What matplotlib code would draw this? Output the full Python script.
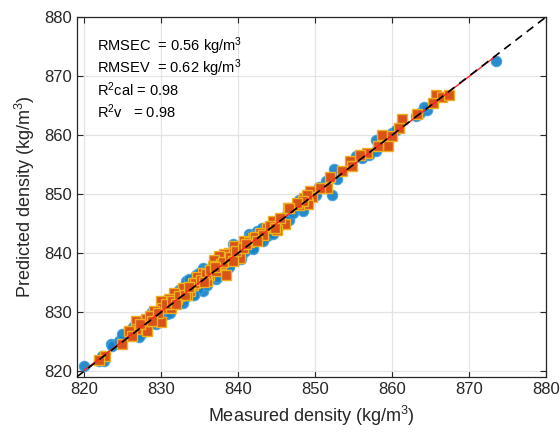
import numpy as np
import matplotlib
matplotlib.use("Agg")
import matplotlib.pyplot as plt

plt.rcParams['font.family'] = ['Liberation Sans', 'DejaVu Sans']
plt.rcParams['mathtext.default'] = 'regular'

# Calibration set (blue circles): measured, predicted
cal_meas = [820.0, 821.9, 822.6, 822.4, 823.5, 823.7, 824.5, 825.0, 827.4, 828.0,
            829.3, 830.8, 831.9, 833.6, 834.5, 833.2, 834.1, 834.5, 835.4, 837.1,
            837.5, 833.6, 834.9, 835.4, 837.5, 838.8, 839.7, 840.6, 839.3, 841.6,
            841.0, 843.8, 841.4, 842.5, 843.1, 845.7, 846.2, 848.4, 846.6, 847.1,
            848.4, 847.9, 850.1, 850.5, 851.4, 852.2, 852.9, 852.5, 855.3,
            856.1, 857.0, 857.9, 858.5, 857.9, 860.0, 860.5, 863.1, 863.7, 864.6,
            864.2, 873.5,
            826.0, 826.8, 827.9, 828.6, 829.0, 829.8, 830.4, 831.0, 831.5, 832.2,
            832.7, 833.0, 833.9, 834.8, 835.8, 836.3, 836.8, 837.9, 838.3, 839.0,
            839.8, 840.2, 841.2, 841.9, 842.2, 842.8, 843.5, 844.3, 844.9, 845.3,
            828.4, 830.0, 831.8, 833.4, 835.1, 836.5, 838.6, 840.9, 842.6, 844.0,
            827.1, 829.6, 831.2, 832.9, 834.3, 836.0, 837.3, 838.9, 840.4, 842.0,
            843.3, 844.6, 826.4, 828.9, 830.6, 832.4, 835.6, 837.7, 839.5, 841.5]
cal_pred = [820.9, 821.8, 821.8, 822.6, 824.6, 824.3, 825.2, 826.3, 826.3, 827.7,
            828.0, 829.7, 831.4, 835.3, 836.4, 835.3, 833.0, 834.2, 833.6, 835.6,
            836.1, 835.6, 836.7, 837.5, 838.4, 838.9, 838.9, 840.1, 841.5, 841.5,
            842.0, 842.9, 843.2, 843.7, 844.3, 845.7, 846.3, 847.1, 845.7, 846.8,
            848.4, 849.1, 849.9, 851.3, 852.2, 849.9, 852.5, 854.2, 856.4,
            856.1, 856.7, 857.3, 858.7, 859.2, 860.4, 860.9, 863.2, 863.7, 864.3,
            864.8, 872.6,
            826.9, 826.2, 828.6, 828.0, 829.6, 829.1, 830.9, 830.4, 832.1, 831.6,
            833.2, 832.4, 834.5, 834.0, 836.3, 835.7, 837.4, 837.2, 839.0, 838.4,
            840.6, 839.6, 841.9, 841.1, 843.0, 842.3, 844.2, 843.6, 845.3, 844.7,
            829.2, 829.5, 832.5, 832.8, 835.9, 836.0, 839.3, 840.3, 843.3, 843.4,
            825.9, 828.4, 829.9, 831.6, 833.0, 834.6, 836.0, 837.6, 839.1, 840.7,
            842.0, 843.3, 827.5, 830.1, 831.8, 833.7, 837.0, 839.0, 840.8, 842.9]

# Validation set (orange squares): measured, predicted
val_meas = [865.7, 866.5, 867.4, 865.3, 863.2, 861.3, 860.9, 858.7, 860.0, 859.5,
            858.2, 856.8, 855.8, 854.5, 854.8, 853.5, 851.9, 851.6, 850.6, 849.4,
            849.6, 848.6, 849.1, 847.9, 846.5, 846.1,
            849.0, 848.4, 847.7, 846.6, 844.5, 845.1, 843.8, 842.9, 841.9, 840.8,
            840.3, 839.5, 838.8, 840.3, 838.2, 837.5, 836.9, 837.8, 836.7, 838.4,
            836.2, 835.4, 834.9, 836.0, 834.1, 833.0, 833.8, 832.6,
            834.7, 834.1, 832.8, 833.4, 831.7, 832.1, 831.0, 830.0, 830.2, 831.3,
            829.1, 829.1, 830.0, 828.0, 826.7, 827.8, 828.2, 826.7, 825.8, 826.3,
            825.0, 822.8, 821.9,
            827.3, 828.6, 829.6, 830.7, 831.5, 832.3, 833.1, 834.4, 835.2, 835.8,
            836.4, 837.2, 838.0, 839.0, 839.8, 840.6, 841.4, 842.2, 843.2, 844.1,
            845.4, 828.9, 831.9, 833.6, 835.6, 837.0, 839.3, 841.1, 842.5, 844.8]
val_pred = [866.8, 866.5, 866.8, 865.5, 863.6, 862.7, 861.2, 860.1, 859.9, 858.1,
            858.1, 856.9, 856.7, 855.6, 854.8, 854.0, 852.9, 851.1, 851.1, 850.5,
            849.5, 849.4, 848.4, 848.2, 847.7, 845.0,
            849.9, 848.8, 848.5, 847.7, 845.4, 844.0, 844.3, 843.5, 842.6, 842.0,
            840.9, 841.2, 840.1, 839.2, 839.8, 839.5, 838.9, 838.1, 837.8, 836.4,
            836.4, 836.7, 835.6, 835.3, 834.7, 834.2, 833.6, 833.3,
            835.9, 835.0, 834.2, 833.0, 833.3, 832.2, 832.2, 831.9, 830.8, 830.8,
            830.2, 829.1, 828.3, 828.8, 828.5, 827.4, 826.8, 827.1, 826.8, 826.0,
            824.6, 822.6, 822.0,
            828.0, 829.4, 829.9, 831.4, 832.0, 832.8, 832.9, 834.9, 835.5, 836.5,
            837.1, 837.0, 838.6, 839.3, 840.4, 840.9, 841.9, 842.7, 843.1, 844.6,
            845.9, 828.6, 831.4, 834.3, 835.1, 837.6, 838.7, 841.6, 842.1, 844.2]

stats_text = ['RMSEC  = 0.56 kg/m$^3$', 'RMSEV  = 0.62 kg/m$^3$',
              'R$^2$cal = 0.98', 'R$^2$v   = 0.98']
ticks = [820, 830, 840, 850, 860, 870, 880]
lims = (819.1, 880)

fig = plt.figure(figsize=(5.6, 4.37), dpi=100)
ax = fig.add_axes([0.1375, 0.138, 0.8375, 0.823])

ax.plot(cal_meas, cal_pred, 'o', ms=7.5, mfc='#1582c8', mec='#45a0da', mew=0.8,
        alpha=0.92, zorder=3)
ax.plot(val_meas, val_pred, 's', ms=7, mfc='#D95319', mec='#EDB120', mew=1.0,
        zorder=4)

coef = np.polyfit(cal_meas, cal_pred, 1)
xf = np.array([min(cal_meas), max(cal_meas)])
ax.plot(xf, np.polyval(coef, xf), '-', color='#ff2020', lw=1.0, zorder=5)
ax.plot(lims, lims, '--', color='black', lw=1.2, dashes=(5, 3.5), zorder=6)

ax.set_xlim(lims)
ax.set_ylim(lims)
ax.set_xticks(ticks)
ax.set_yticks(ticks)
ax.grid(True, color='#e3e3e3', lw=0.9)
ax.set_axisbelow(True)
ax.tick_params(direction='in', top=True, right=True, length=4, labelsize=12,
               colors='#262626', width=0.8)
for s in ax.spines.values():
    s.set_color('#262626')
    s.set_linewidth(0.9)

ax.set_xlabel('Measured density (kg/m$^3$)', fontsize=13, color='#262626', labelpad=5)
ax.set_ylabel('Predicted density (kg/m$^3$)', fontsize=13, color='#262626', labelpad=5)

for i, t in enumerate(stats_text):
    ax.text(0.042, 0.92 - i * 0.0615, t, transform=ax.transAxes, fontsize=10.5,
            va='center', ha='left', color='black')

fig.savefig('out.png', dpi=100)
